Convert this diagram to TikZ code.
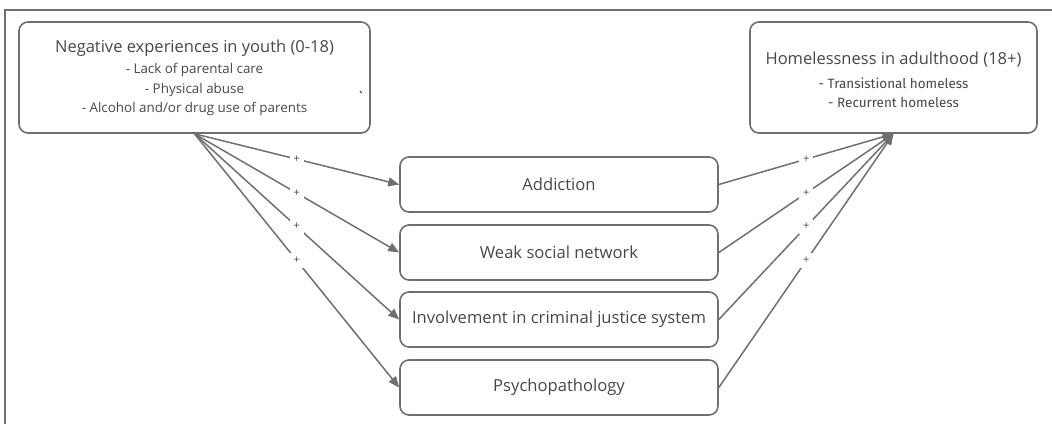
\documentclass[tikz,border=0pt]{standalone}
\usepackage{fontspec}
\setmainfont{Open Sans}
\newfontfamily\dinfont{Fira Sans}
\usetikzlibrary{arrows.meta}
\definecolor{lc}{HTML}{6F6F6F}
\definecolor{tc}{HTML}{474747}
\begin{document}
\begin{tikzpicture}[x=1pt,y=-1pt,
  box/.style={draw=lc,line width=1.6pt,rounded corners=9pt,text=tc,align=center,inner sep=0pt},
  mid/.style={box,minimum width=318pt,minimum height=55pt,font=\fontsize{16.6}{18}\selectfont},
  conn/.style={draw=lc,line width=1.5pt,-{Triangle[length=11pt,width=9pt]}},
  plus/.style={midway,fill=white,inner sep=4pt,text=tc,font=\fontsize{11}{11}\selectfont},
]
\useasboundingbox (0,0) rectangle (1052,424);
\draw[lc,line width=1.6pt] (5,424) -- (5,10) -- (1052,10);

\node[box,minimum width=351pt,minimum height=111pt] (L) at (194.5,77.5) {};
\node[text=tc,align=center,font=\fontsize{16.5}{19}\selectfont] (Lt) at (194.5,48) {Negative experiences in youth (0-18)};
\node[text=tc,align=center,font=\fontsize{13.4}{19.5}\selectfont] (Ls) at (194.5,89.5) {- Lack of parental care\\- Physical abuse\\- Alcohol and/or drug use of parents};
\draw[tc,line width=1.2pt] (360,91) -- (361.5,93);

\node[box,minimum width=287pt,minimum height=111pt] (R) at (893.5,77.5) {};
\node[text=tc,align=center,font=\fontsize{16.5}{19}\selectfont] (Rt) at (893.5,60) {Homelessness in adulthood (18+)};
\node[text=tc,align=center,font=\dinfont\fontsize{13.5}{19}\selectfont] (Rs) at (893.5,92.5) {- Transistional homeless\\- Recurrent homeless};

\node[mid] (A) at (559,184.5) {Addiction};
\node[mid] (W) at (559,252.5) {Weak social network};
\node[mid] (I) at (559,319.5) {Involvement in criminal justice system};
\node[mid] (P) at (559,387.5) {Psychopathology};

\foreach \n in {A,W,I,P}{
  \draw[conn] (L.south) -- node[plus]{+} (\n.west);
  \draw[conn] (\n.east) -- node[plus]{+} (R.south);
}
\end{tikzpicture}
\end{document}
